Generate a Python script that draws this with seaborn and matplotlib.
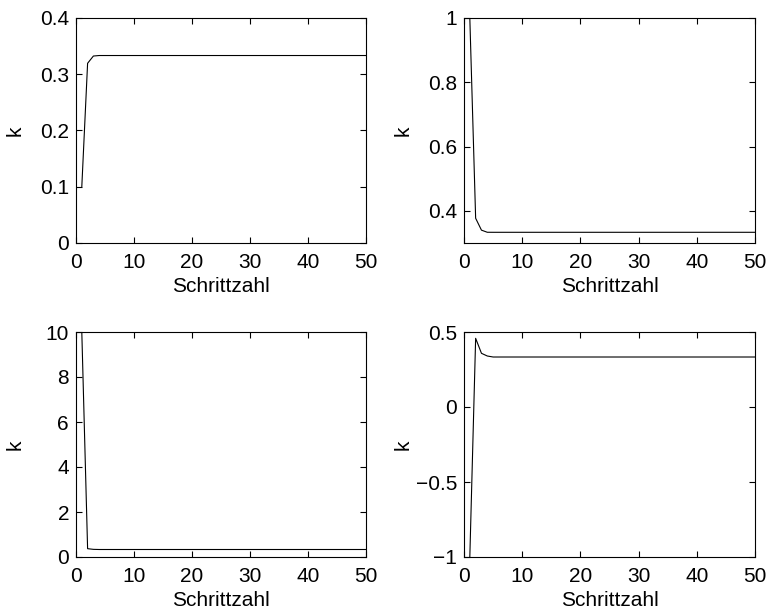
import matplotlib
matplotlib.use("Agg")
import matplotlib.pyplot as plt
import seaborn as sns
import pandas as pd
import numpy as np

sns.set_theme(style="white")
plt.rcParams['font.family'] = ['Liberation Sans', 'DejaVu Sans']

steps = list(range(1, 51))
tail = [0.3333] * 46

k_start_01 = [0.1, 0.3195, 0.3324, 0.3333] + tail
k_start_1 = [1.0, 0.377, 0.340, 0.3334] + tail
k_start_10 = [10.0, 0.37, 0.34, 0.3334] + tail
k_start_m1 = [-1.0, 0.458, 0.358, 0.340] + tail

series = [k_start_01, k_start_1, k_start_10, k_start_m1]
ylims = [(0, 0.4), (0.3, 1.0), (0, 10), (-1, 0.5)]
yticks = [[0, 0.1, 0.2, 0.3, 0.4], [0.4, 0.6, 0.8, 1.0], [0, 2, 4, 6, 8, 10], [-1, -0.5, 0, 0.5]]
yticklabels = [["0", "0.1", "0.2", "0.3", "0.4"], ["0.4", "0.6", "0.8", "1"],
               ["0", "2", "4", "6", "8", "10"], ["\u22121", "\u22120.5", "0", "0.5"]]
xticks = [0, 10, 20, 30, 40, 50]

fig = plt.figure(figsize=(7.68, 6.12), dpi=100)
W, H = 768, 612
boxes = [(76, 18, 366, 243), (464, 18, 755, 243), (76, 332, 366, 557), (464, 332, 755, 557)]

for i, (x0, y0, x1, y1) in enumerate(boxes):
    ax = fig.add_axes([x0 / W, 1 - y1 / H, (x1 - x0) / W, (y1 - y0) / H])
    df = pd.DataFrame({"Schrittzahl": steps, "k": series[i]})
    sns.lineplot(data=df, x="Schrittzahl", y="k", ax=ax, color="black", linewidth=0.8)
    ax.set_xlim(0, 50)
    ax.set_ylim(*ylims[i])
    ax.set_xticks(xticks)
    ax.set_xticklabels([str(t) for t in xticks])
    ax.set_yticks(yticks[i])
    ax.set_yticklabels(yticklabels[i])
    ax.tick_params(direction="in", length=4, width=0.8, colors="black", labelsize=15,
                   top=True, right=True, bottom=True, left=True)
    ax.tick_params(axis="x", pad=7)
    ax.tick_params(axis="y", pad=5)
    ax.set_xlabel("Schrittzahl", fontsize=15, color="black", labelpad=4)
    ax.set_ylabel("k", fontsize=15, color="black")
    ax.yaxis.set_label_coords(-51.0 / (x1 - x0), 0.5)
    for s in ax.spines.values():
        s.set_color("black")
        s.set_linewidth(0.8)

fig.savefig("out.png", dpi=100, facecolor="white")
